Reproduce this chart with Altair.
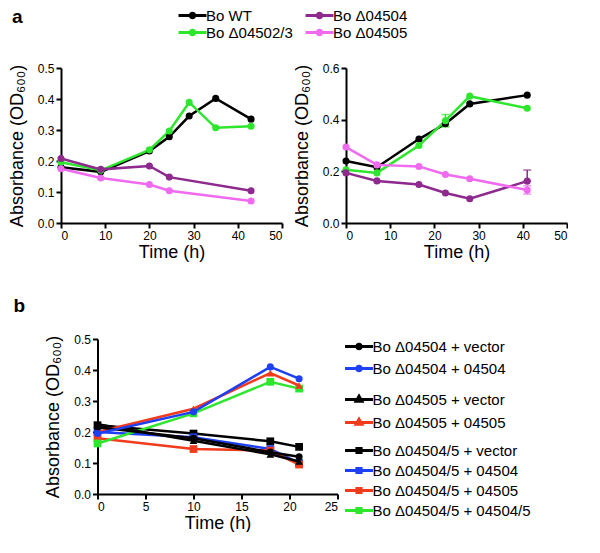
import altair as alt
import pandas as pd

FONT = "Liberation Sans"

# ---------------- panel a, left ----------------
a1_time = [0, 9, 20, 24.5, 29, 35, 43]
a1_wt = [0.180, 0.165, 0.232, 0.278, 0.345, 0.402, 0.335]
a1_d045023 = [0.196, 0.170, 0.236, 0.297, 0.389, 0.307, 0.312]
a1_time_mut = [0, 9, 20, 24.5, 43]
a1_d04504 = [0.208, 0.173, 0.184, 0.148, 0.104]
a1_d04505 = [0.175, 0.145, 0.124, 0.104, 0.071]

# ---------------- panel a, right ----------------
a2_time = [0, 7, 16.5, 22.5, 28, 41]
a2_wt = [0.240, 0.216, 0.325, 0.384, 0.461, 0.495]
a2_d045023 = [0.206, 0.194, 0.300, 0.396, 0.491, 0.444]
a2_d04504 = [0.194, 0.163, 0.149, 0.116, 0.094, 0.162]
a2_d04505 = [0.294, 0.225, 0.219, 0.188, 0.171, 0.128]
a2_err_strain = ["Bo Δ04502/3", "Bo Δ04504", "Bo Δ04505"]
a2_err_time = [22.5, 41, 41]
a2_err_lo = [0.372, 0.162, 0.112]
a2_err_hi = [0.420, 0.205, 0.144]

a_strains = ["Bo WT", "Bo Δ04502/3", "Bo Δ04504", "Bo Δ04505"]
a_colors = ["#000000", "#2ee62e", "#8e2a8e", "#ef6aef"]

# ---------------- panel b ----------------
b_time = [0, 10, 18, 21]
b_04504_vec = [0.215, 0.180, 0.135, 0.120]
b_04504_04504 = [0.195, 0.265, 0.410, 0.372]
b_04505_vec = [0.225, 0.172, 0.128, 0.105]
b_04505_04505 = [0.200, 0.275, 0.390, 0.350]
b_045045_vec = [0.222, 0.195, 0.170, 0.152]
b_045045_04504 = [0.200, 0.183, 0.145, 0.100]
b_045045_04505 = [0.180, 0.145, 0.140, 0.095]
b_045045_045045 = [0.163, 0.260, 0.362, 0.340]

b_g1_labels = ["Bo Δ04504 + vector", "Bo Δ04504 + 04504"]
b_g2_labels = ["Bo Δ04505 + vector", "Bo Δ04505 + 04505"]
b_g3_labels = ["Bo Δ04504/5 + vector", "Bo Δ04504/5 + 04504",
               "Bo Δ04504/5 + 04505", "Bo Δ04504/5 + 04504/5"]
BLACK, BLUE, RED, GREEN = "#000000", "#1f40f2", "#f23a1c", "#2ee62e"
b_g1_colors = [BLACK, BLUE]
b_g2_colors = [BLACK, RED]
b_g3_colors = [BLACK, BLUE, RED, GREEN]

# legend symbols: a line with a marker (unit = 6 px at symbolSize 144)
LINE_CIRCLE = "M-2.33,0H2.33M-0.37,0A0.37,0.37 0 1,1 0.37,0A0.37,0.37 0 1,1 -0.37,0Z"
LINE_TRI = "M-2.33,0H2.33M0,-0.55L0.48,0.3L-0.48,0.3Z"
LINE_SQ = "M-2.33,0H2.33M-0.35,-0.35H0.35V0.35H-0.35Z"


def frame(time, pairs):
    rows = []
    for name, vals in pairs:
        for t, v in zip(time, vals):
            rows.append({"time": t, "od": v, "strain": name})
    return pd.DataFrame(rows)


dfa1 = pd.concat([
    frame(a1_time, [("Bo WT", a1_wt), ("Bo Δ04502/3", a1_d045023)]),
    frame(a1_time_mut, [("Bo Δ04504", a1_d04504), ("Bo Δ04505", a1_d04505)]),
])
dfa2 = frame(a2_time, [("Bo WT", a2_wt), ("Bo Δ04502/3", a2_d045023),
                       ("Bo Δ04504", a2_d04504), ("Bo Δ04505", a2_d04505)])
dfa2_err = pd.DataFrame({"strain": a2_err_strain, "time": a2_err_time,
                         "lo": a2_err_lo, "hi": a2_err_hi})


def xaxis(vals):
    return alt.Axis(values=vals, title="Time (h)", format="d", titlePadding=2)


def yaxis(vals):
    return alt.Axis(values=vals, title="Absorbance (OD₆₀₀)", format=".1f",
                    titlePadding=11)


def leg(symbol, x, y, values, row_pad, **extra):
    return alt.Legend(orient="none", legendX=x, legendY=y, values=values,
                      rowPadding=row_pad, symbolType=symbol, symbolSize=144,
                      symbolStrokeWidth=3, labelFont=FONT, labelFontSize=15,
                      labelColor="black", labelOffset=6, padding=0, **extra)


a_scale = alt.Scale(domain=a_strains, range=a_colors)
xa = alt.X("time:Q", scale=alt.Scale(domain=[0, 50], nice=False),
           axis=xaxis([0, 10, 20, 30, 40, 50]))
A_W, A_H = 221, 155

# ---- left panel ("a" is the title of its legend) ----
ya1 = alt.Y("od:Q", scale=alt.Scale(domain=[0, 0.5], nice=False),
            axis=yaxis([0, 0.1, 0.2, 0.3, 0.4, 0.5]))
legend_left = leg(LINE_CIRCLE, -49, -60, ["Bo WT", "Bo Δ04502/3"], 0,
                  title="a", titleOrient="left", titlePadding=162,
                  titleFont=FONT, titleFontSize=19, titleFontWeight="bold",
                  titleColor="black", titleBaseline="top", titleAnchor="start")
left = alt.layer(
    alt.Chart(dfa1).mark_line(strokeWidth=2.5).encode(
        x=xa, y=ya1,
        color=alt.Color("strain:N", scale=a_scale, legend=legend_left)),
    alt.Chart(dfa1).mark_point(filled=True, size=50, opacity=1, shape="circle").encode(
        x=xa, y=ya1, color=alt.Color("strain:N", scale=a_scale, legend=None)),
).properties(width=A_W, height=A_H)

# ---- right panel ----
ya2 = alt.Y("od:Q", scale=alt.Scale(domain=[0, 0.6], nice=False),
            axis=yaxis([0, 0.2, 0.4, 0.6]))
right = alt.layer(
    alt.Chart(dfa2).mark_line(strokeWidth=2.5).encode(
        x=xa, y=ya2,
        color=alt.Color("strain:N", scale=a_scale,
                        legend=leg(LINE_CIRCLE, -34, -60, ["Bo Δ04504", "Bo Δ04505"], 0,
                                   title=None))),
    alt.Chart(dfa2_err).mark_rule(strokeWidth=1.5).encode(
        x=xa, y="lo:Q", y2="hi:Q",
        color=alt.Color("strain:N", scale=a_scale, legend=None)),
    alt.Chart(dfa2_err).mark_tick(orient="horizontal", size=8, thickness=1.5).encode(
        x=xa, y="hi:Q", color=alt.Color("strain:N", scale=a_scale, legend=None)),
    alt.Chart(dfa2_err).mark_tick(orient="horizontal", size=8, thickness=1.5).encode(
        x=xa, y="lo:Q", color=alt.Color("strain:N", scale=a_scale, legend=None)),
    alt.Chart(dfa2).mark_point(filled=True, size=50, opacity=1, shape="circle").encode(
        x=xa, y=ya2, color=alt.Color("strain:N", scale=a_scale, legend=None)),
).properties(width=A_W, height=A_H)

top = alt.hconcat(left, right, spacing=0).resolve_scale(color="independent")

# ---- panel b ----
xb = alt.X("time:Q", scale=alt.Scale(domain=[0, 25], nice=False),
           axis=xaxis([0, 5, 10, 15, 20, 25]))
yb = alt.Y("od:Q", scale=alt.Scale(domain=[0, 0.5], nice=False),
           axis=yaxis([0, 0.1, 0.2, 0.3, 0.4, 0.5]))


def group(df, labels, colors, shape, symbol, ly, row_pad, msize):
    sc = alt.Scale(domain=labels, range=colors)
    return alt.layer(
        alt.Chart(df).mark_line(strokeWidth=2.5).encode(
            x=xb, y=yb,
            color=alt.Color("strain:N", scale=sc,
                            legend=leg(symbol, 254, ly, labels, row_pad, title=None))),
        alt.Chart(df).mark_point(filled=True, size=msize, opacity=1, shape=shape).encode(
            x=xb, y=yb, color=alt.Color("strain:N", scale=sc, legend=None)),
    )


dfb1 = frame(b_time, [(b_g1_labels[0], b_04504_vec), (b_g1_labels[1], b_04504_04504)])
dfb2 = frame(b_time, [(b_g2_labels[0], b_04505_vec), (b_g2_labels[1], b_04505_04505)])
dfb3 = frame(b_time, [(b_g3_labels[0], b_045045_vec), (b_g3_labels[1], b_045045_04504),
                      (b_g3_labels[2], b_045045_04505), (b_g3_labels[3], b_045045_045045)])

bottom = alt.layer(
    group(dfb3, b_g3_labels, b_g3_colors, "square", LINE_SQ, 104, 3, 60),
    group(dfb2, b_g2_labels, b_g2_colors, "triangle-up", LINE_TRI, 53, 5, 60),
    group(dfb1, b_g1_labels, b_g1_colors, "circle", LINE_CIRCLE, 0, 5, 50),
).resolve_scale(color="independent").properties(
    width=240, height=A_H,
    title=alt.TitleParams("b", anchor="start", frame="group", font=FONT,
                          fontSize=19, fontWeight="bold", color="black",
                          dx=-84, offset=2, baseline="alphabetic"))

chart = alt.vconcat(top, bottom, spacing=36, center=True).resolve_scale(
    color="independent"
).properties(padding=0).configure_view(stroke=None).configure_axis(
    grid=False, domainColor="black", domainWidth=2, tickColor="black", tickWidth=2,
    tickSize=5, labelFont=FONT, labelFontSize=12, labelColor="black", labelPadding=2,
    titleFont=FONT, titleFontSize=18, titleFontWeight="normal", titleColor="black",
)

chart.save("out.html", embed_options={"renderer": "svg", "actions": False})
